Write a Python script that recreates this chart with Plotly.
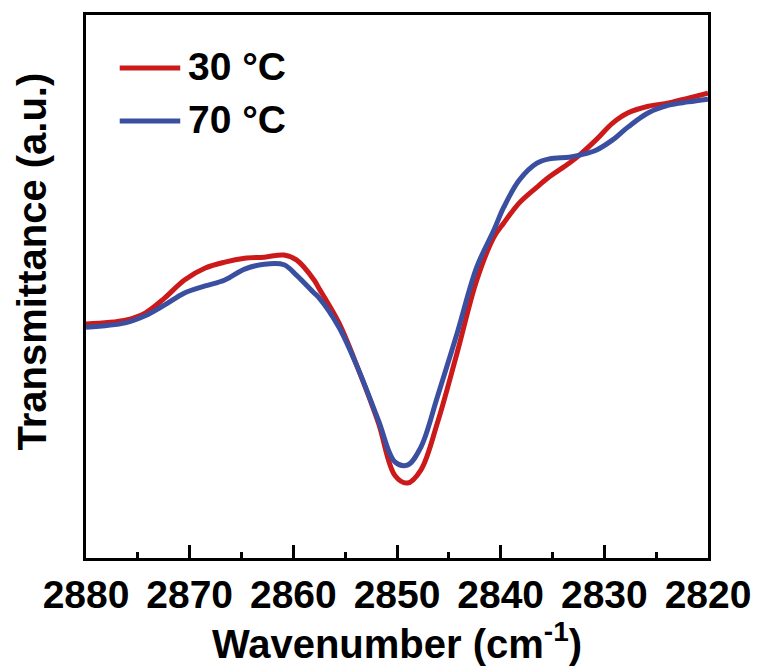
import plotly.graph_objects as go

# Wavenumber (cm-1) and transmittance (a.u.)
wn = [2880.0, 2876.2, 2874.3, 2872.4, 2870.5, 2868.5, 2866.6, 2864.7, 2862.8, 2860.9,
      2859.7, 2858.0, 2857.6, 2855.6, 2853.7, 2851.8, 2850.2, 2849.0, 2847.7, 2846.1,
      2844.2, 2842.3, 2840.65, 2839.7, 2838.2, 2836.5, 2835.3, 2833.4, 2832.4, 2830.8,
      2829.2, 2827.7, 2825.75, 2823.8, 2821.9, 2820.0]

t30 = [43.1, 43.8, 45.1, 47.9, 51.2, 53.4, 54.5, 55.2, 55.4, 55.8,
       54.9, 51.2, 49.9, 43.3, 34.6, 24.9, 15.2, 13.8, 16.2, 24.9,
       37.8, 51.2, 59.1, 61.7, 65.4, 68.3, 70.2, 72.7, 74.2, 77.0,
       80.1, 82.0, 83.2, 83.8, 84.7, 85.6]

t70 = [42.5, 43.3, 44.6, 46.6, 48.8, 50.1, 51.2, 53.2, 54.1, 54.0,
       52.1, 48.8, 48.1, 42.5, 34.6, 25.4, 17.7, 17.1, 20.4, 29.7,
       41.4, 53.6, 60.4, 64.6, 69.6, 72.7, 73.5, 73.8, 74.2, 75.1,
       77.0, 79.4, 82.0, 83.4, 84.0, 84.5]

series_names = ["30 °C", "70 °C"]
colors = ["#CC1A1A", "#3B4FA0"]
x_ticks = [2880, 2870, 2860, 2850, 2840, 2830, 2820]

FONT = "Liberation Sans, Arial, sans-serif"

fig = go.Figure()
for name, y, c in zip(series_names, [t30, t70], colors):
    fig.add_trace(go.Scatter(x=wn, y=y, mode="lines", name=name,
                             line=dict(color=c, width=5, shape="spline", smoothing=1.0),
                             showlegend=False))

# manual legend
leg_y = [0.9024, 0.8048]
for name, c, yy in zip(series_names, colors, leg_y):
    fig.add_shape(type="line", xref="paper", yref="paper",
                  x0=0.0542, x1=0.1515, y0=yy, y1=yy,
                  line=dict(color=c, width=5))
    fig.add_annotation(xref="paper", yref="paper", x=0.160, y=yy + 0.002,
                       xanchor="left", yanchor="middle", showarrow=False,
                       text=f"<b>{name}</b>",
                       font=dict(family=FONT, size=39, color="black"))

# y-axis title
fig.add_annotation(xref="paper", yref="paper", x=-0.086, y=0.545,
                   xanchor="center", yanchor="middle", showarrow=False,
                   textangle=-90, text="<b>Transmittance (a.u.)</b>",
                   font=dict(family=FONT, size=40, color="black"))

fig.update_layout(
    width=763, height=670,
    margin=dict(l=86, r=50, t=15, b=112),
    paper_bgcolor="white", plot_bgcolor="white",
    font=dict(family=FONT, color="black"),
    xaxis=dict(range=[2880, 2820], tickvals=x_ticks,
               ticktext=[str(v) for v in x_ticks],
               ticks="inside", ticklen=13, tickwidth=3, tickcolor="black",
               minor=dict(dtick=5, tick0=2880, ticks="inside", ticklen=6, tickwidth=3, tickcolor="black"),
               showline=True, linewidth=3, linecolor="black", mirror=True,
               showgrid=False, zeroline=False,
               tickfont=dict(family=FONT, size=39, color="black", weight="bold"),
               title=dict(text="<b>Wavenumber (cm<sup>-1</sup>)</b>",
                          font=dict(family=FONT, size=40, color="black"), standoff=6)),
    yaxis=dict(range=[0, 100], showticklabels=False, ticks="",
               showline=True, linewidth=3, linecolor="black", mirror=True,
               showgrid=False, zeroline=False),
)

fig.write_html("out.html")
